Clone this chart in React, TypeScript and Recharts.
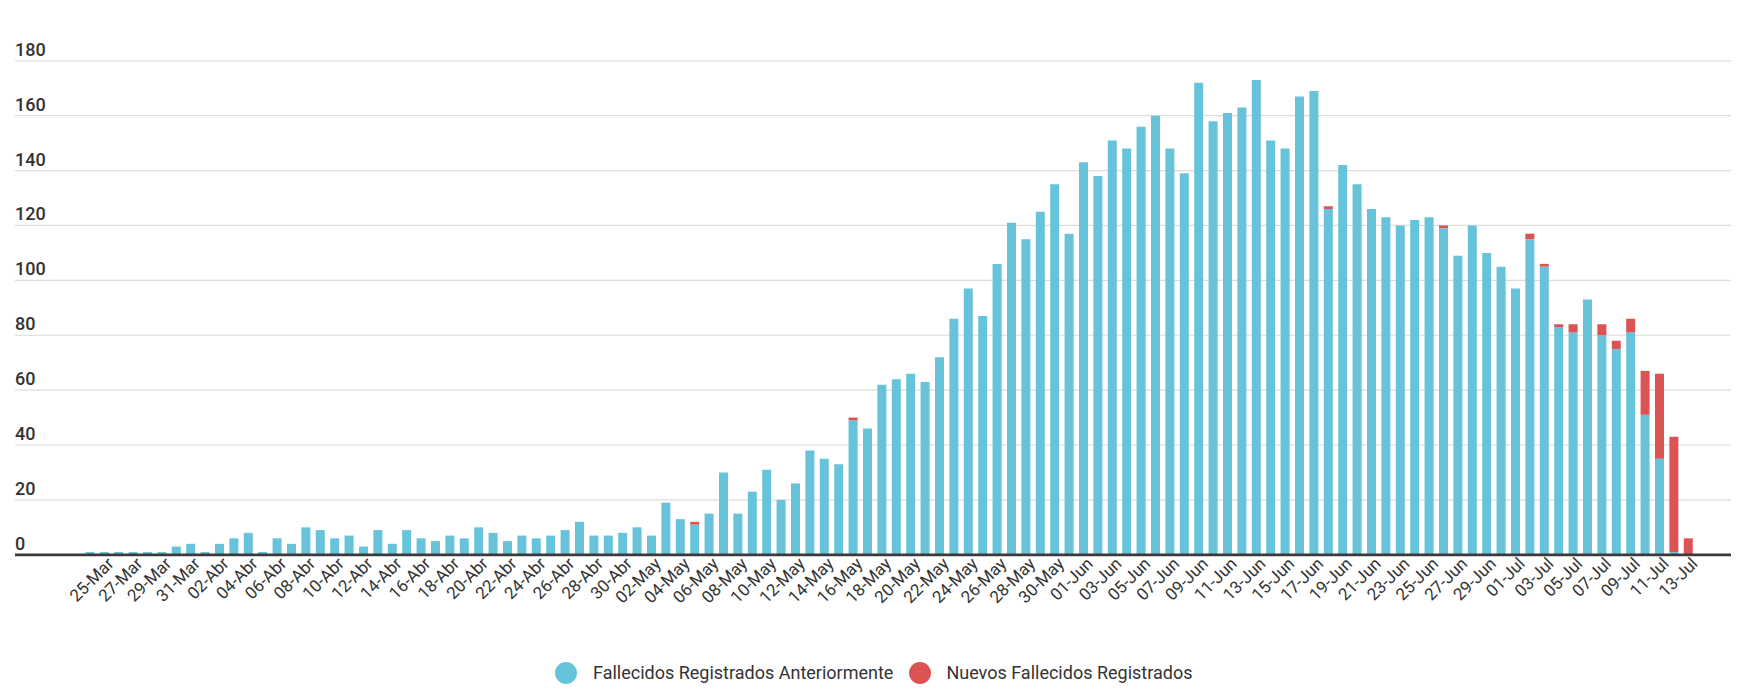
import React from "react";
import { BarChart, Bar, XAxis, YAxis, CartesianGrid } from "recharts";

const dates = [
  "25-Mar","26-Mar","27-Mar","28-Mar","29-Mar","30-Mar","31-Mar",
  "01-Abr","02-Abr","03-Abr","04-Abr","05-Abr","06-Abr","07-Abr","08-Abr","09-Abr","10-Abr",
  "11-Abr","12-Abr","13-Abr","14-Abr","15-Abr","16-Abr","17-Abr","18-Abr","19-Abr","20-Abr",
  "21-Abr","22-Abr","23-Abr","24-Abr","25-Abr","26-Abr","27-Abr","28-Abr","29-Abr","30-Abr",
  "01-May","02-May","03-May","04-May","05-May","06-May","07-May","08-May","09-May","10-May",
  "11-May","12-May","13-May","14-May","15-May","16-May","17-May","18-May","19-May","20-May",
  "21-May","22-May","23-May","24-May","25-May","26-May","27-May","28-May","29-May","30-May","31-May",
  "01-Jun","02-Jun","03-Jun","04-Jun","05-Jun","06-Jun","07-Jun","08-Jun","09-Jun","10-Jun",
  "11-Jun","12-Jun","13-Jun","14-Jun","15-Jun","16-Jun","17-Jun","18-Jun","19-Jun","20-Jun",
  "21-Jun","22-Jun","23-Jun","24-Jun","25-Jun","26-Jun","27-Jun","28-Jun","29-Jun","30-Jun",
  "01-Jul","02-Jul","03-Jul","04-Jul","05-Jul","06-Jul","07-Jul","08-Jul","09-Jul","10-Jul",
  "11-Jul","12-Jul","13-Jul","14-Jul",
];

const previos = [
  1, 1, 1, 1, 1, 1, 3, 4, 1, 4,
  6, 8, 1, 6, 4, 10, 9, 6, 7, 3,
  9, 4, 9, 6, 5, 7, 6, 10, 8, 5,
  7, 6, 7, 9, 12, 7, 7, 8, 10, 7,
  19, 13, 11, 15, 30, 15, 23, 31, 20, 26,
  38, 35, 33, 49, 46, 62, 64, 66, 63, 72,
  86, 97, 87, 106, 121, 115, 125, 135, 117, 143,
  138, 151, 148, 156, 160, 148, 139, 172, 158, 161,
  163, 173, 151, 148, 167, 169, 126, 142, 135, 126,
  123, 120, 122, 123, 119, 109, 120, 110, 105, 97,
  115, 105, 83, 81, 93, 80, 75, 81, 51, 35,
  1, 0,
];

const nuevos = [
  0, 0, 0, 0, 0, 0, 0, 0, 0, 0,
  0, 0, 0, 0, 0, 0, 0, 0, 0, 0,
  0, 0, 0, 0, 0, 0, 0, 0, 0, 0,
  0, 0, 0, 0, 0, 0, 0, 0, 0, 0,
  0, 0, 1, 0, 0, 0, 0, 0, 0, 0,
  0, 0, 0, 1, 0, 0, 0, 0, 0, 0,
  0, 0, 0, 0, 0, 0, 0, 0, 0, 0,
  0, 0, 0, 0, 0, 0, 0, 0, 0, 0,
  0, 0, 0, 0, 0, 0, 1, 0, 0, 0,
  0, 0, 0, 0, 1, 0, 0, 0, 0, 0,
  2, 1, 1, 3, 0, 4, 3, 5, 16, 31,
  42, 6,
];

const yTicks = [0, 20, 40, 60, 80, 100, 120, 140, 160, 180];

const seriesNames = ["Fallecidos Registrados Anteriormente", "Nuevos Fallecidos Registrados"];
const BLUE = "#67c3d9";
const RED = "#db5353";

const data = dates.map((d, i) => ({ date: d, prev: previos[i], nuevo: nuevos[i] }));

const W = 1758;
const H = 696;
const PLOT_LEFT = 15;
const FONT = "Roboto, 'Noto Sans', sans-serif";

const renderXTick = (props: any) => {
  const { x, y, payload } = props;
  return (
    <g transform={`translate(${x + 25},${y + 10})`}>
      <text textAnchor="end" transform="rotate(-45)" fontSize={17} fill="#333" fontFamily={FONT}>
        {payload.value}
      </text>
    </g>
  );
};

const renderYTick = (props: any) => {
  const { y, payload } = props;
  return (
    <text x={PLOT_LEFT} y={y - 5} textAnchor="start" fontSize={18} fontWeight={500} fill="#333" fontFamily={FONT}>
      {payload.value}
    </text>
  );
};

export default function App() {
  return (
    <div style={{ position: "absolute", left: 0, top: 0, width: W, height: H, background: "#fff" }}>
      <BarChart
        width={W}
        height={H}
        data={data}
        margin={{ top: 60.8, right: 27, left: PLOT_LEFT - 1, bottom: 81.2 }}
        barCategoryGap="20%"
      >
        <CartesianGrid vertical={false} stroke="#dcdcdc" strokeWidth={1.2} />
        <YAxis
          width={1}
          domain={[0, 180]}
          ticks={yTicks}
          axisLine={false}
          tickLine={false}
          tick={renderYTick}
          interval={0}
        />
        <XAxis
          dataKey="date"
          height={60}
          interval={1}
          padding={{ left: 67.5, right: 35.7 }}
          tickLine={false}
          tickSize={0}
          tickMargin={0}
          axisLine={{ stroke: "#3a3a3a", strokeWidth: 2.7 }}
          tick={renderXTick}
        />
        <Bar dataKey="prev" stackId="a" fill={BLUE} isAnimationActive={false} name={seriesNames[0]} />
        <Bar dataKey="nuevo" stackId="a" fill={RED} isAnimationActive={false} name={seriesNames[1]} />
      </BarChart>
      <div
        style={{
          position: "absolute",
          top: 662,
          left: 555,
          display: "flex",
          alignItems: "center",
          fontFamily: FONT,
          fontSize: 18,
          lineHeight: "22px",
          color: "#333",
          whiteSpace: "nowrap",
        }}
      >
        <span style={{ width: 22, height: 22, borderRadius: "50%", background: BLUE, display: "inline-block" }} />
        <span style={{ marginLeft: 16 }}>{seriesNames[0]}</span>
        <span style={{ width: 22, height: 22, borderRadius: "50%", background: RED, display: "inline-block", marginLeft: 16 }} />
        <span style={{ marginLeft: 15 }}>{seriesNames[1]}</span>
      </div>
    </div>
  );
}
